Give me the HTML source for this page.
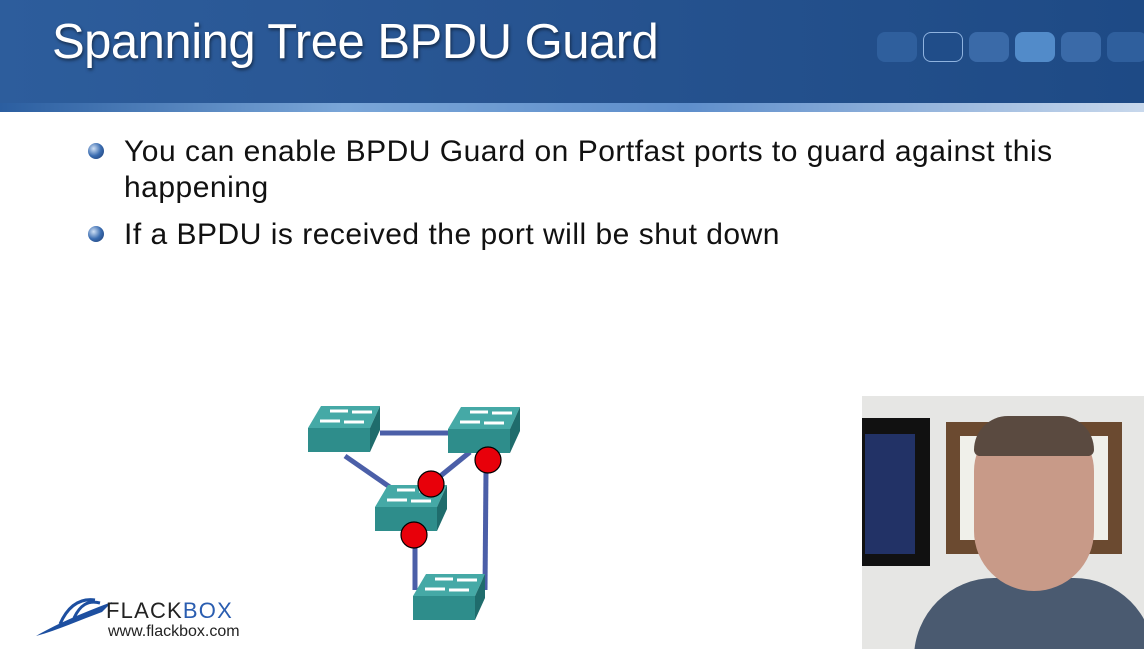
<!DOCTYPE html>
<html><head><style>
body{margin:0;width:1144px;height:649px;overflow:hidden;background:#fff;position:relative;font-family:"Liberation Sans",sans-serif}
.hdr{position:absolute;left:0;top:0;width:1144px;height:105px;background:linear-gradient(90deg,#2d5d9c 0%,#285592 40%,#1e4a85 100%)}
.strip{position:absolute;left:0;top:103px;width:1144px;height:9px;background:linear-gradient(90deg,#2b5ea0,#7aa6d8 30%,#5e8ecb 60%,#c8d8ec)}
.title{position:absolute;left:52px;top:14px;color:#fff;font-size:49px;letter-spacing:-0.5px;text-shadow:1px 2px 3px rgba(0,0,0,.5)}
.sq{position:absolute;top:32px;width:40px;height:30px;border-radius:8px}
.b{position:absolute;left:88px;width:16px;height:16px;border-radius:50%;background:radial-gradient(circle at 35% 35%,#cfe0f5,#3a6cb0 50%,#1b3a70)}
.t{position:absolute;left:124px;font-size:30px;letter-spacing:0.5px;color:#111}
</style></head><body>
<div class="hdr"></div><div class="strip"></div>
<div class="title">Spanning Tree BPDU Guard</div>
<div class="sq" style="left:877px;background:#2f5f9d"></div>
<div class="sq" style="left:923px;background:#204d89;border:1px solid #8fb3df;width:38px;height:28px"></div>
<div class="sq" style="left:969px;background:#3a6aa8"></div>
<div class="sq" style="left:1015px;background:#528bc9"></div>
<div class="sq" style="left:1061px;background:#3a6aa8"></div>
<div class="sq" style="left:1107px;background:#2f5f9d"></div>
<div class="b" style="top:143px"></div>
<div class="t" style="top:135px">You can enable BPDU Guard on Portfast ports to guard against this</div>
<div class="t" style="top:171px">happening</div>
<div class="b" style="top:226px"></div>
<div class="t" style="top:218px">If a BPDU is received the port will be shut down</div>
<svg width="1144" height="649" style="position:absolute;left:0;top:0">
<defs><g id="sw">
<polygon points="0,22 13,0 72,0 62,22" fill="#45a9a6"/>
<polygon points="62,22 72,0 72,24 62,46" fill="#1f6c6c"/>
<rect x="0" y="22" width="62" height="24" fill="#2e8d8b"/>
<g stroke="#fff" stroke-width="3"><line x1="22" y1="5" x2="40" y2="5"/><line x1="44" y1="6" x2="64" y2="6"/><line x1="12" y1="15" x2="32" y2="15"/><line x1="36" y1="16" x2="56" y2="16"/></g>
</g></defs>
<g stroke="#4b5fa8" stroke-width="5">
<line x1="380" y1="433" x2="450" y2="433"/>
<line x1="345" y1="456" x2="397" y2="492"/>
<line x1="470" y1="452" x2="438" y2="478"/>
<line x1="486" y1="470" x2="485" y2="590"/>
<line x1="415" y1="535" x2="415" y2="590"/>
</g>
<use href="#sw" x="308" y="406"/>
<use href="#sw" x="448" y="407"/>
<use href="#sw" x="375" y="485"/>
<use href="#sw" x="413" y="574"/>
<g fill="#e8000a" stroke="#000" stroke-width="1.2">
<circle cx="431" cy="484" r="13"/><circle cx="488" cy="460" r="13"/><circle cx="414" cy="535" r="13"/>
</g>
<path d="M36,636 C60,622 90,610 112,602 L102,612 C80,620 58,630 36,636Z" fill="#1d4fa0"/>
<path d="M60,624 C68,606 80,598 95,600 M74,618 C80,605 88,600 100,603" stroke="#1d4fa0" stroke-width="3" fill="none"/>
<text x="106" y="618" font-size="22" fill="#222" letter-spacing="1.2">FLACK<tspan fill="#2a5db0">BOX</tspan></text>
<text x="108" y="636" font-size="16" fill="#222">www.flackbox.com</text>
</svg>
<div style="position:absolute;left:862px;top:396px;width:282px;height:253px;background:#e6e6e4;overflow:hidden">
<div style="position:absolute;left:0;top:22px;width:68px;height:148px;background:#111"></div>
<div style="position:absolute;left:3px;top:38px;width:50px;height:120px;background:#223266"></div>
<div style="position:absolute;left:84px;top:26px;width:176px;height:132px;background:#6b4a30"></div>
<div style="position:absolute;left:98px;top:40px;width:148px;height:104px;background:#f0f0ea"></div>
<div style="position:absolute;left:52px;top:182px;width:240px;height:90px;background:#4a5a70;border-radius:80px 80px 0 0"></div>
<div style="position:absolute;left:112px;top:20px;width:120px;height:175px;background:#c89a88;border-radius:55px 55px 60px 60px"></div>
<div style="position:absolute;left:112px;top:20px;width:120px;height:40px;background:#5a4a40;border-radius:55px 55px 10px 10px"></div>
</div>
</body></html>
